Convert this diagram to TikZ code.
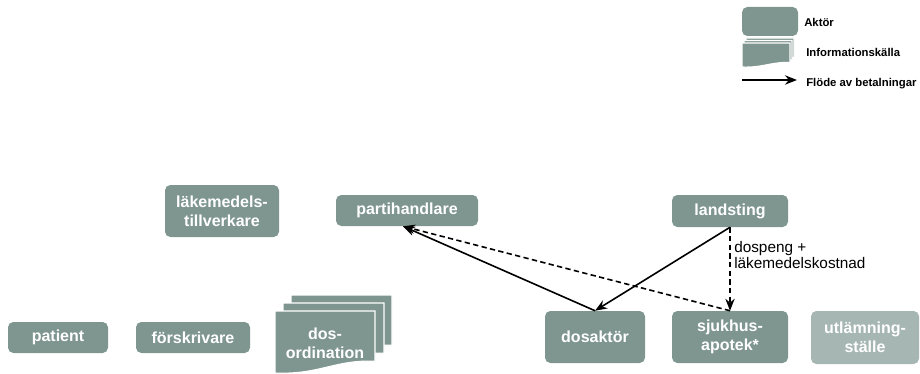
\documentclass[tikz,border=0pt]{standalone}
\usepackage{fontspec}
\setmainfont{Liberation Sans}
\usetikzlibrary{arrows.meta}
\definecolor{boxc}{HTML}{7F9690}
\definecolor{lightc}{HTML}{A6B6B2}
\tikzset{
  actor/.style={rounded corners=4pt, fill=boxc, text=white, inner sep=0pt,
    font=\fontsize{12}{14}\selectfont\bfseries, align=center},
  lightactor/.style={actor, fill=lightc},
  sheet/.style={fill=boxc, draw=white, line width=0.8pt},
  pay/.style={line width=1.2pt, -{Stealth[length=9pt,width=7pt]}},
  paydash/.style={pay, dashed, dash pattern=on 4pt off 2.5pt},
  lab/.style={font=\fontsize{11.5}{12.5}\selectfont, align=left, inner sep=0pt},
  legtext/.style={font=\fontsize{8.5}{10}\selectfont\bfseries, inner sep=0pt, anchor=west}
}
\newcommand\docsheet[4]{% x y w h (px, y down)
  \path[sheet] (#1,#2) -- ({#1+#3},#2) -- ({#1+#3},{#2+#4*0.81})
    .. controls ({#1+#3*0.6},{#2+#4*0.78}) and ({#1+#3*0.45},{#2+#4*1.03}) .. (#1,{#2+#4}) -- cycle;}
\begin{document}
\begin{tikzpicture}[x=0.75pt, y=-0.75pt]
\useasboundingbox (0,0) rectangle (920,374);
% legend
\node[actor, minimum width=56*0.75pt, minimum height=29*0.75pt] (legakt) at (770,21.5) {};
\node[legtext] (legakttext) at (804,22) {Aktör};
\docsheet{746}{38}{48}{24}
\docsheet{744}{40.5}{48}{24}
\docsheet{742}{43}{48}{24}
\node[legtext] (leginfo) at (806,52) {Informationskälla};
\coordinate (legA) at (742,80);
\coordinate (legB) at (797,80);
\draw[pay] (legA) -- (legB);
\node[legtext] (legflow) at (806,84) {Flöde av betalningar};
% actors
\node[actor, minimum width=114*0.75pt, minimum height=52*0.75pt] (tillv) at (222,211) {läkemedels-\\tillverkare};
\node[actor, minimum width=142*0.75pt, minimum height=31*0.75pt] (parti) at (407,210.5) {partihandlare};
\node[actor, minimum width=116*0.75pt, minimum height=32*0.75pt] (land) at (730,211) {landsting};
\node[actor, minimum width=100*0.75pt, minimum height=52*0.75pt] (dosakt) at (595,337) {dosaktör};
\node[actor, minimum width=116*0.75pt, minimum height=52*0.75pt] (sjuk) at (730,337) {sjukhus-\\apotek*};
\node[lightactor, minimum width=108*0.75pt, minimum height=53*0.75pt] (utl) at (865,337.5) {utlämning-\\ställe};
\node[actor, minimum width=100*0.75pt, minimum height=31*0.75pt] (patient) at (58,337.5) {patient};
\node[actor, minimum width=114*0.75pt, minimum height=31*0.75pt] (forskr) at (193,337.5) {förskrivare};
% dosordination document stack
\docsheet{291}{295}{101}{62}
\docsheet{283}{303}{101}{62}
\docsheet{275}{311}{100}{62}
\node[actor, fill=none] (dosord) at (325,343) {dos-\\ordination};
% connectors
\draw[pay] (land.south) -- (dosakt.north);
\draw[pay] (dosakt.north) -- ([xshift=-3pt]parti.south);
\draw[paydash] (land.south) -- (sjuk.north);
\draw[paydash] (sjuk.north) -- ([xshift=-3pt]parti.south);
\node[lab, anchor=west] (lbl) at (734,255) {dospeng +\\läkemedelskostnad};
\end{tikzpicture}
\end{document}
